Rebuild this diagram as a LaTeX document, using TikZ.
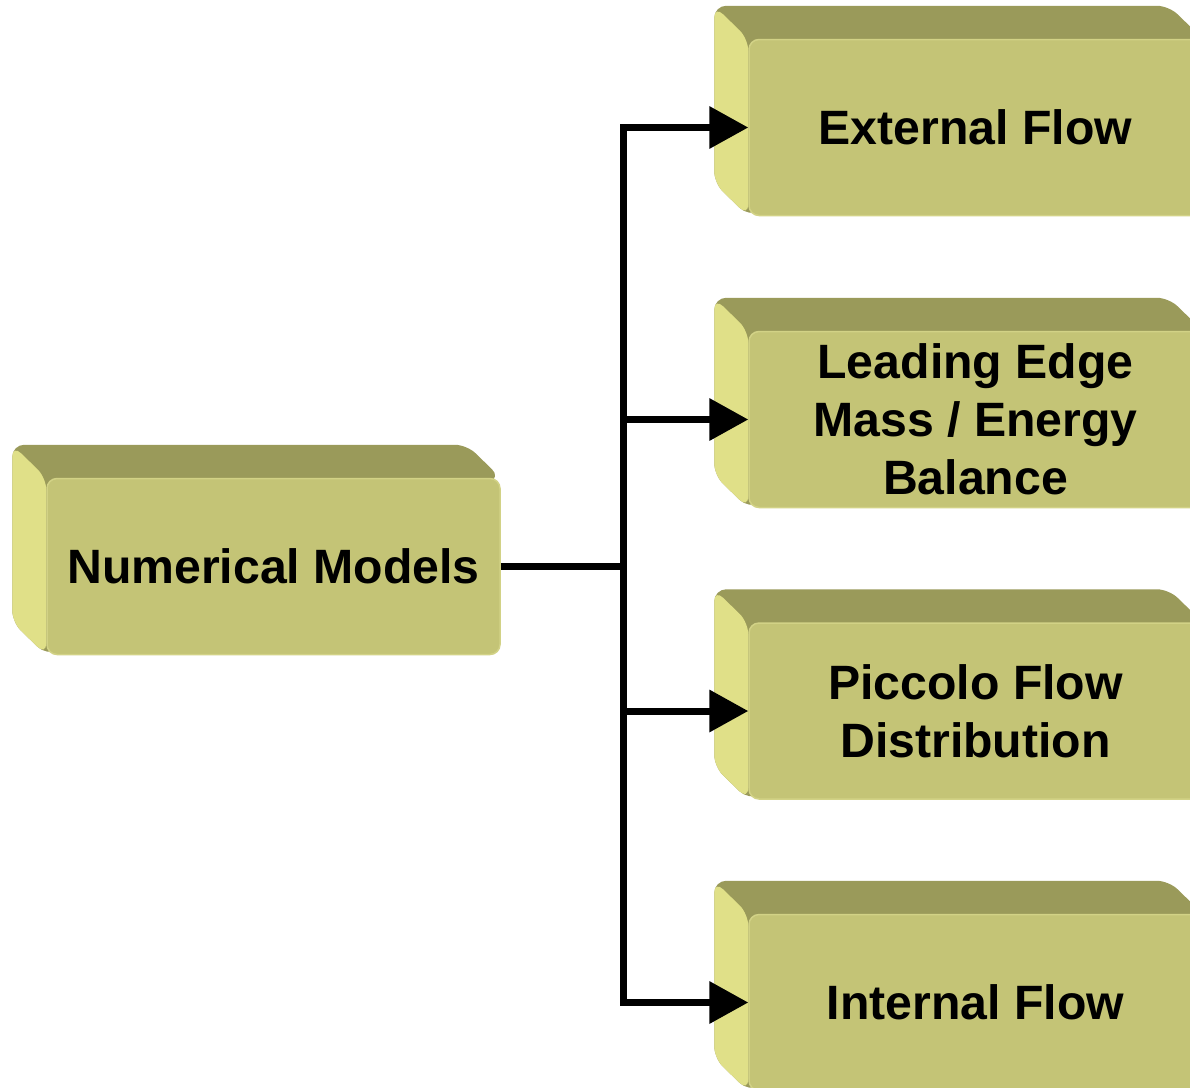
\documentclass[tikz,border=0pt]{standalone}
\usepackage{fontspec}
\setmainfont{Liberation Sans}
\usetikzlibrary{calc,arrows.meta,backgrounds}
\definecolor{frontc}{HTML}{C4C476}
\definecolor{topc}{HTML}{9A9A5A}
\definecolor{leftc}{HTML}{E0E088}
\definecolor{edgec}{HTML}{D2D286}
\tikzset{
  cube/.style={rectangle, rounded corners=10pt, fill=frontc, draw=edgec, line width=1.5pt,
    minimum width=453pt, minimum height=176pt, inner sep=0pt, align=center,
    font=\bfseries\fontsize{48.2}{58}\selectfont},
  conn/.style={line width=7pt, black},
  arr/.style={conn, -{Triangle[length=39pt,width=41pt]}},
}
\newcommand{\extrude}[1]{%
  \coordinate (#1A) at ($(#1.north west)+(-34,-33)$);
  \coordinate (#1B) at ($(#1.north east)+(-34,-33)$);
  \coordinate (#1F) at ($(#1.south west)+(-34,-33)$);
  \fill[topc, rounded corners=12pt] (#1A) -- (#1B) -- (#1.north east) -- (#1.south west) -- (#1F) -- cycle;
  \fill[leftc, rounded corners=12pt] (#1A) -- (#1.north west) -- (#1.south west) -- (#1F) -- cycle;
}
\begin{document}
\begin{tikzpicture}[x=1pt,y=-1pt]
\useasboundingbox (0,0) rectangle (1190,1087);
\node[cube] (L) at (273.5,566.5) {Numerical Models};
\node[cube] (R1) at (975.5,127.5) {External Flow};
\node[cube] (R2) at (975.5,419.5) {Leading Edge\\Mass / Energy\\Balance};
\node[cube] (R3) at (975.5,711) {Piccolo Flow\\Distribution};
\node[cube] (R4) at (975.5,1002.5) {Internal Flow};
\begin{pgfonlayer}{background}
\extrude{L}
\extrude{R1}
\extrude{R2}
\extrude{R3}
\extrude{R4}
\end{pgfonlayer}
\coordinate (J) at (623,566.5);
\draw[conn] (L.east) -- (J);
\draw[arr] (J) |- (R1.west);
\draw[arr] (J) |- (R2.west);
\draw[arr] (J) |- (R3.west);
\draw[arr] (J) |- (R4.west);
\end{tikzpicture}
\end{document}
